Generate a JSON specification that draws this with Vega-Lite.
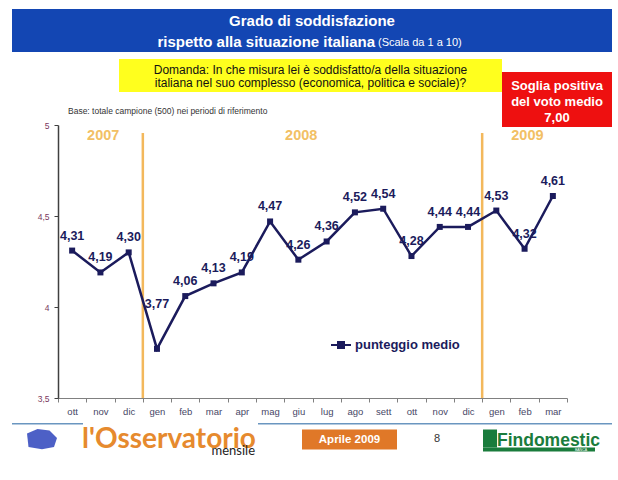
{
  "$schema": "https://vega.github.io/schema/vega-lite/v6.json",
  "padding": {"left": 12, "top": 9, "right": 0, "bottom": 0},
  "autosize": {"type": "pad"},
  "background": "white",
  "bounds": "flush",
  "spacing": 116,
  "config": {
    "font": "Liberation Sans",
    "view": {"stroke": null},
    "locale": {"number": {"decimal": ",", "thousands": ".", "grouping": [3], "currency": ["", " €"]}}
  },
  "vconcat": [
    {
      "bounds": "flush",
      "spacing": 7,
      "vconcat": [
        {
          "width": 600,
          "height": 43,
          "view": {"fill": "#1346b3", "stroke": null},
          "data": {"values": [{"riga1": "Grado di soddisfazione", "riga2": "rispetto alla situazione italiana", "scala": "(Scala da 1 a 10)"}]},
          "layer": [
            {"mark": {"type": "text", "color": "white", "fontWeight": "bold", "fontSize": 15, "dy": -9.5}, "encoding": {"text": {"field": "riga1"}}},
            {"mark": {"type": "text", "color": "white", "fontWeight": "bold", "fontSize": 15, "align": "right", "dx": 63, "dy": 11}, "encoding": {"text": {"field": "riga2"}}},
            {"mark": {"type": "text", "color": "white", "fontSize": 11, "align": "left", "dx": 66, "dy": 12}, "encoding": {"text": {"field": "scala"}}}
          ]
        },
        {
          "bounds": "flush",
          "spacing": 0,
          "hconcat": [
            {
              "width": 107,
              "height": 66,
              "data": {"values": [{"base": "Base: totale campione (500) nei periodi di riferimento"}]},
              "mark": {"type": "text", "color": "#333333", "fontSize": 8.5, "align": "left", "dx": 2.5, "dy": 19},
              "encoding": {"text": {"field": "base"}}
            },
            {
              "width": 383,
              "height": 33,
              "view": {"fill": "#ffff1e", "stroke": null},
              "data": {"values": [{"r1": "Domanda: In che misura lei è soddisfatto/a della situazione", "r2": "italiana nel suo complesso (economica, politica e sociale)?"}]},
              "layer": [
                {"mark": {"type": "text", "color": "#111111", "fontSize": 12, "dy": -6}, "encoding": {"text": {"field": "r1"}}},
                {"mark": {"type": "text", "color": "#111111", "fontSize": 12, "dy": 7}, "encoding": {"text": {"field": "r2"}}}
              ]
            },
            {
              "bounds": "flush",
              "spacing": 12,
              "vconcat": [
                {"width": 110, "height": 1, "data": {"values": []}, "mark": "point", "encoding": {}},
                {
                  "width": 110,
                  "height": 55,
                  "view": {"fill": "#ee1010", "stroke": null},
                  "data": {"values": [{"a": "Soglia positiva", "b": "del voto medio", "c": "7,00"}]},
                  "layer": [
                    {"mark": {"type": "text", "color": "white", "fontWeight": "bold", "fontSize": 13, "dy": -14}, "encoding": {"text": {"field": "a"}}},
                    {"mark": {"type": "text", "color": "white", "fontWeight": "bold", "fontSize": 13, "dy": 2}, "encoding": {"text": {"field": "b"}}},
                    {"mark": {"type": "text", "color": "white", "fontWeight": "bold", "fontSize": 13, "dy": 18}, "encoding": {"text": {"field": "c"}}}
                  ]
                }
              ]
            }
          ]
        }
      ]
    },
    {
      "bounds": "flush",
      "spacing": 298,
      "vconcat": [
        {
          "bounds": "flush",
          "spacing": 0,
          "hconcat": [
            {"width": 46, "height": 1, "data": {"values": []}, "mark": "point", "encoding": {}},
            {
              "width": 509,
              "height": 273,
              "data": {"values": [
                {"mese": "ott 07", "valore": 4.31},
                {"mese": "nov 07", "valore": 4.19},
                {"mese": "dic 07", "valore": 4.30},
                {"mese": "gen 08", "valore": 3.77},
                {"mese": "feb 08", "valore": 4.06},
                {"mese": "mar 08", "valore": 4.13},
                {"mese": "apr 08", "valore": 4.19},
                {"mese": "mag 08", "valore": 4.47},
                {"mese": "giu 08", "valore": 4.26},
                {"mese": "lug 08", "valore": 4.36},
                {"mese": "ago 08", "valore": 4.52},
                {"mese": "sett 08", "valore": 4.54},
                {"mese": "ott 08", "valore": 4.28},
                {"mese": "nov 08", "valore": 4.44},
                {"mese": "dic 08", "valore": 4.44},
                {"mese": "gen 09", "valore": 4.53},
                {"mese": "feb 09", "valore": 4.32},
                {"mese": "mar 09", "valore": 4.61}
              ]},
              "encoding": {
                "x": {
                  "field": "mese",
                  "type": "nominal",
                  "sort": null,
                  "scale": {
                    "domain": ["ott 07", "nov 07", "dic 07", "gen 08", "feb 08", "mar 08", "apr 08", "mag 08", "giu 08", "lug 08", "ago 08", "sett 08", "ott 08", "nov 08", "dic 08", "gen 09", "feb 09", "mar 09"],
                    "paddingInner": 0,
                    "paddingOuter": 0
                  },
                  "axis": {
                    "title": null,
                    "tickBand": "extent",
                    "labelExpr": "split(datum.label, ' ')[0]",
                    "labelAngle": 0,
                    "labelFontSize": 9.5,
                    "labelColor": "#474766",
                    "labelPadding": 4,
                    "domainColor": "#808080",
                    "tickColor": "#808080",
                    "tickSize": 4,
                    "grid": false
                  }
                }
              },
              "layer": [
                {
                  "transform": [{"filter": "datum.mese == 'dic 07' || datum.mese == 'dic 08'"}],
                  "mark": {"type": "rule", "color": "#f3b85c", "strokeWidth": 2.5},
                  "encoding": {
                    "x": {"field": "mese", "type": "nominal", "bandPosition": 1},
                    "y": {"datum": 4.956, "type": "quantitative"},
                    "y2": {"datum": 3.5}
                  }
                },
                {
                  "data": {"values": [
                    {"anno": "2007", "mese": "nov 07"},
                    {"anno": "2008", "mese": "giu 08"},
                    {"anno": "2009", "mese": "feb 09"}
                  ]},
                  "mark": {"type": "text", "color": "#f2c064", "fontWeight": "bold", "fontSize": 14.5},
                  "encoding": {
                    "x": {"field": "mese", "type": "nominal", "bandPosition": 0.6},
                    "y": {"datum": 4.94, "type": "quantitative"},
                    "text": {"field": "anno"}
                  }
                },
                {
                  "mark": {"type": "line", "strokeWidth": 2.5},
                  "encoding": {
                    "y": {
                      "field": "valore",
                      "type": "quantitative",
                      "scale": {"domain": [3.5, 5], "nice": false, "zero": false},
                      "axis": {
                        "title": null,
                        "values": [3.5, 4, 4.5, 5],
                        "format": ".1~f",
                        "labelFontSize": 8.5,
                        "labelColor": "#7a3a5e",
                        "labelPadding": 5,
                        "domainColor": "#404040",
                        "domainWidth": 1.5,
                        "tickColor": "#404040",
                        "tickSize": 4,
                        "grid": false
                      }
                    },
                    "color": {
                      "datum": "punteggio medio",
                      "type": "nominal",
                      "scale": {"range": ["#1b1b5c"]},
                      "legend": {
                        "orient": "none",
                        "legendX": 318,
                        "legendY": 325,
                        "title": null,
                        "labelFontSize": 13,
                        "labelFontWeight": "bold",
                        "labelColor": "#1b1b5c",
                        "labelOffset": 3,
                        "symbolType": "M-1,0L1,0M-0.3,-0.3L0.3,-0.3L0.3,0.3L-0.3,0.3Z",
                        "symbolSize": 400,
                        "symbolStrokeWidth": 2,
                        "symbolFillColor": "#1b1b5c",
                        "symbolStrokeColor": "#1b1b5c"
                      }
                    }
                  }
                },
                {
                  "mark": {"type": "point", "shape": "square", "filled": true, "size": 36, "opacity": 1, "color": "#1b1b5c"},
                  "encoding": {"y": {"field": "valore", "type": "quantitative"}}
                },
                {
                  "transform": [{"filter": "datum.mese != 'gen 08'"}],
                  "mark": {"type": "text", "fontWeight": "bold", "fontSize": 12.5, "dy": -15, "color": "#1b1b5c"},
                  "encoding": {
                    "y": {"field": "valore", "type": "quantitative"},
                    "text": {"field": "valore", "type": "quantitative", "format": ".2f"}
                  }
                },
                {
                  "transform": [{"filter": "datum.mese == 'gen 08'"}],
                  "mark": {"type": "text", "fontWeight": "bold", "fontSize": 12.5, "dy": -45, "color": "#1b1b5c"},
                  "encoding": {
                    "y": {"field": "valore", "type": "quantitative"},
                    "text": {"field": "valore", "type": "quantitative", "format": ".2f"}
                  }
                }
              ]
            }
          ]
        },
        {
          "bounds": "flush",
          "spacing": 6.5,
          "vconcat": [
            {
              "bounds": "flush",
              "spacing": 0,
              "hconcat": [
                {"width": 71, "height": 1.5, "view": {"fill": "#6a96c0", "stroke": null}, "data": {"values": []}, "mark": "point", "encoding": {}},
                {"width": 175, "height": 1.5, "data": {"values": []}, "mark": "point", "encoding": {}},
                {"width": 354, "height": 1.5, "view": {"fill": "#6a96c0", "stroke": null}, "data": {"values": []}, "mark": "point", "encoding": {}}
              ]
            },
            {
              "bounds": "flush",
              "spacing": 0,
              "hconcat": [
                {
                  "width": 60,
                  "height": 20,
                  "data": {"values": [{"logo": "ARS"}]},
                  "mark": {"type": "point", "shape": "M-1,-0.4L-0.3,-0.7L0.5,-0.6L1,-0.1L0.8,0.5L0,0.65L-0.9,0.5Z", "filled": true, "size": 900, "color": "#3a4fc0", "opacity": 0.9},
                  "encoding": {}
                },
                {
                  "width": 200,
                  "height": 20,
                  "data": {"values": [{"nome": "l'Osservatorio", "sotto": "mensile"}]},
                  "layer": [
                    {"mark": {"type": "text", "font": "Lato", "fontWeight": "bold", "fontSize": 28, "color": "#e68a2e", "baseline": "alphabetic", "dx": -3, "dy": 8}, "encoding": {"text": {"field": "nome"}}},
                    {"mark": {"type": "text", "font": "Lato", "fontSize": 13, "color": "#222222", "align": "right", "baseline": "alphabetic", "dx": 83, "dy": 15}, "encoding": {"text": {"field": "sotto"}}}
                  ]
                },
                {"width": 30, "height": 1, "data": {"values": []}, "mark": "point", "encoding": {}},
                {
                  "width": 95,
                  "height": 20,
                  "view": {"fill": "#e07828", "stroke": null},
                  "data": {"values": [{"mese": "Aprile  2009"}]},
                  "mark": {"type": "text", "color": "white", "fontWeight": "bold", "fontSize": 11.5},
                  "encoding": {"text": {"field": "mese"}}
                },
                {
                  "width": 80,
                  "height": 20,
                  "data": {"values": [{"pagina": "8"}]},
                  "mark": {"type": "text", "color": "#333333", "fontSize": 11, "dy": -1},
                  "encoding": {"text": {"field": "pagina"}}
                },
                {"width": 6, "height": 1, "data": {"values": []}, "mark": "point", "encoding": {}},
                {
                  "bounds": "flush",
                  "spacing": 18,
                  "vconcat": [
                    {
                      "bounds": "flush",
                      "spacing": 1,
                      "hconcat": [
                        {"width": 14, "height": 18, "view": {"fill": "#1a7c3c", "stroke": null}, "data": {"values": []}, "mark": "point", "encoding": {}},
                        {
                          "width": 97,
                          "height": 18,
                          "data": {"values": [{"marchio": "Findomestic"}]},
                          "mark": {"type": "text", "fontWeight": "bold", "fontSize": 17.5, "color": "#1a7c3c", "baseline": "alphabetic", "dx": 2, "dy": 7.5},
                          "encoding": {"text": {"field": "marchio"}}
                        }
                      ]
                    },
                    {
                      "width": 112,
                      "height": 4,
                      "view": {"fill": "#1a7c3c", "stroke": null},
                      "data": {"values": [{"banca": "BANCA"}]},
                      "mark": {"type": "text", "color": "white", "fontSize": 3.5, "align": "right", "dx": 48},
                      "encoding": {"text": {"field": "banca"}}
                    }
                  ]
                }
              ]
            }
          ]
        }
      ]
    }
  ]
}
